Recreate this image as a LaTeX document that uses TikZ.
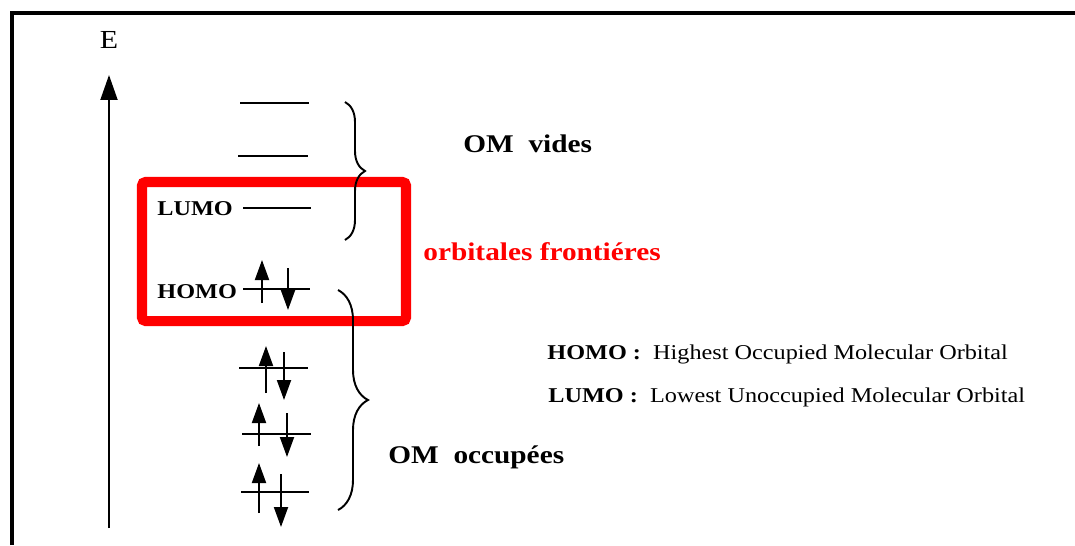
\documentclass[tikz,border=0pt]{standalone}
\usepackage{fontspec}
\setmainfont{Liberation Serif}
\usetikzlibrary{arrows.meta,decorations.pathreplacing}
\definecolor{boxred}{RGB}{255,0,0}

\begin{document}
\begin{tikzpicture}[x=0.02cm,y=-0.02cm,
    level/.style={line width=1.1pt},
    spin/.style={line width=1.1pt,-{Triangle[width=0.28cm,length=0.4cm]}},
    lbl/.style={inner sep=0pt,anchor=base west,xscale=1.15,font=\bfseries\fontsize{12}{14}\selectfont},
    big/.style={inner sep=0pt,anchor=base west,xscale=1.15,font=\bfseries\fontsize{14.5}{17}\selectfont},
    defn/.style={inner sep=0pt,anchor=base west,xscale=1.15,font=\fontsize{12}{14}\selectfont},
    accol/.style={decorate,decoration={brace,amplitude=#1},line width=1.1pt}]
        \useasboundingbox (0,0) rectangle (1075,545);
        \draw[line width=2.6pt] (12,545) -- (12,13) -- (1075,13);
        \draw[line width=1.1pt,-{Triangle[width=0.34cm,length=0.5cm]}] (109,528) -- (109,75);
        \node[inner sep=0pt,anchor=base,xscale=1.15,font=\fontsize{14.8}{17}\selectfont] (E) at (109,48) {E};
        % niveaux
        \foreach \xa/\xb/\y in {240/309/103,238/308/156,243/311/208,243/310/289,239/308/368,242/311/434,241/309/492}
            \draw[level] (\xa,\y) -- (\xb,\y);
        % electrons
        \foreach \xu/\yu/\tu/\xd/\yd/\td in {262/303/260/288/268/310,266/393/346/284/352/400,259/446/403/287/413/457,259/513/463/281/474/527}
        {
            \draw[spin] (\xu,\yu) -- (\xu,\tu);
            \draw[spin] (\xd,\yd) -- (\xd,\td);
        }
        \draw[boxred,line width=5.7pt,rounded corners=2pt] (142,182) rectangle (406,321);
        \coordinate (vt) at (345,102);
        \coordinate (vb) at (345,240);
        \coordinate (ot) at (338,290);
        \coordinate (ob) at (338,510);
        \draw[accol=0.4cm] (vt) -- (vb);
        \draw[accol=0.6cm] (ot) -- (ob);
        \node[lbl] (lumo) at (157,215) {LUMO};
        \node[lbl] (homo) at (157,298) {HOMO};
        \node[big] (vides) at (463,152) {OM\ \ vides};
        \node[big,text=boxred] (front) at (423,260) {orbitales frontiéres};
        \node[big] (occ) at (388,463) {OM\ \ occupées};
        \node[defn] (homodef) at (547,359) {\textbf{HOMO :}\ \ Highest Occupied Molecular Orbital};
        \node[defn] (lumodef) at (548,402) {\textbf{LUMO :}\ \ Lowest Unoccupied Molecular Orbital};
\end{tikzpicture}
\end{document}
